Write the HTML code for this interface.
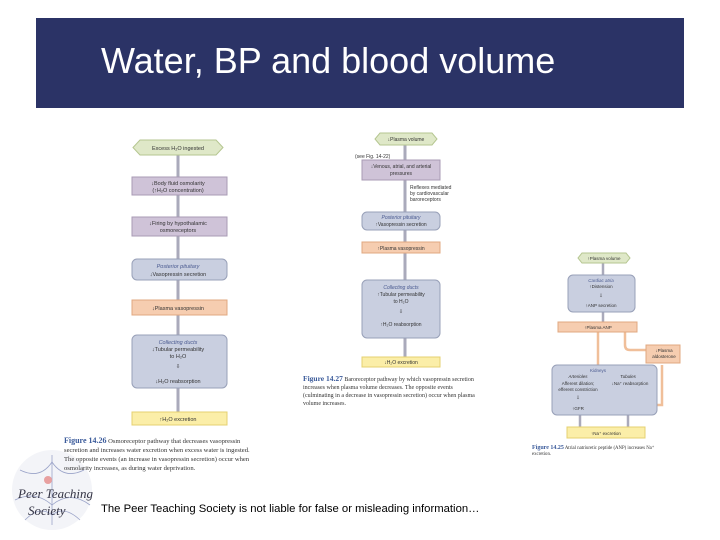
<!DOCTYPE html>
<html><head><meta charset="utf-8"><style>
body{margin:0;width:720px;height:540px;background:#fff;position:relative;overflow:hidden;font-family:"Liberation Sans",sans-serif}
.hdr{position:absolute;left:36px;top:18px;width:648px;height:90px;background:#2b3366}
.ttl{position:absolute;left:101px;top:40px;color:#fff;font-size:36px;white-space:nowrap}
.foot{position:absolute;left:101px;top:503px;font-size:11.3px;color:#000;white-space:nowrap}
svg{position:absolute;left:0;top:0}
</style></head><body>
<div class="hdr"></div>
<div class="ttl">Water, BP and blood volume</div>
<svg width="720" height="540" font-family="Liberation Sans, sans-serif" font-size="5.5" fill="#333">
<ellipse cx="52" cy="490" rx="40" ry="40" fill="#f3f4f8"/>
<g stroke="#9aa3c8" stroke-width="0.8" fill="none">
<path d="M20,470 Q40,480 52,462 Q64,480 84,470"/><path d="M15,500 Q35,490 52,505 Q70,490 90,505"/>
<path d="M52,455 V525"/><path d="M25,520 Q40,505 52,515 Q64,505 80,520"/>
</g>
<circle cx="48" cy="480" r="4" fill="#e8a0a0"/>
<text x="18" y="498" font-family="Liberation Serif, serif" font-style="italic" font-size="13" fill="#334">Peer Teaching</text>
<text x="28" y="515" font-family="Liberation Serif, serif" font-style="italic" font-size="13" fill="#334">Society</text>
<!-- Diagram 1 -->
<g stroke="#aab" stroke-width="3">
<line x1="178" y1="155" x2="178" y2="412"/>
</g>
<polygon points="140,140 216,140 223,147.5 216,155 140,155 133,147.5" fill="#dfe8c8" stroke="#b5c690"/>
<rect x="132" y="177" width="95" height="18" fill="#cfc3d8" stroke="#a99bb5"/>
<rect x="132" y="217" width="95" height="19" fill="#cfc3d8" stroke="#a99bb5"/>
<rect x="132" y="259" width="95" height="21" rx="5" fill="#c9cfe0" stroke="#98a0b8"/>
<rect x="132" y="300" width="95" height="15" fill="#f6cdb0" stroke="#e0a880"/>
<rect x="132" y="335" width="95" height="53" rx="5" fill="#c9cfe0" stroke="#98a0b8"/>
<rect x="132" y="412" width="95" height="13" fill="#fbeea8" stroke="#e5d070"/>
<g text-anchor="middle">
<text x="178" y="150">Excess H₂O ingested</text>
<text x="178" y="185">↓Body fluid osmolarity</text><text x="178" y="192">(↑H₂O concentration)</text>
<text x="178" y="225">↓Firing by hypothalamic</text><text x="178" y="232">osmoreceptors</text>
<text x="178" y="268" font-style="italic" fill="#4a5a90">Posterior pituitary</text><text x="178" y="276">↓Vasopressin secretion</text>
<text x="178" y="310">↓Plasma vasopressin</text>
<text x="178" y="344" font-style="italic" fill="#4a5a90">Collecting ducts</text><text x="178" y="351">↓Tubular permeability</text><text x="178" y="358">to H₂O</text>
<text x="178" y="368">⇩</text><text x="178" y="383">↓H₂O reabsorption</text>
<text x="178" y="421">↑H₂O excretion</text>
</g>
<g font-family="Liberation Serif, serif" font-size="6.6" fill="#333">
<text x="64" y="443"><tspan fill="#3a5a9a" font-weight="bold" font-size="8">Figure 14.26</tspan> Osmoreceptor pathway that decreases vasopressin</text>
<text x="64" y="452">secretion and increases water excretion when excess water is ingested.</text>
<text x="64" y="461">The opposite events (an increase in vasopressin secretion) occur when</text>
<text x="64" y="470">osmolarity increases, as during water deprivation.</text>
</g>
<!-- Diagram 2 -->
<g stroke="#aab" stroke-width="3"><line x1="405" y1="145" x2="405" y2="357"/></g>
<polygon points="380,133 432,133 437,139 432,145 380,145 375,139" fill="#dfe8c8" stroke="#b5c690"/>
<rect x="362" y="160" width="78" height="20" fill="#cfc3d8" stroke="#a99bb5"/>
<rect x="362" y="212" width="78" height="18" rx="5" fill="#c9cfe0" stroke="#98a0b8"/>
<rect x="362" y="242" width="78" height="11" fill="#f6cdb0" stroke="#e0a880"/>
<rect x="362" y="280" width="78" height="58" rx="5" fill="#c9cfe0" stroke="#98a0b8"/>
<rect x="362" y="357" width="78" height="10" fill="#fbeea8" stroke="#e5d070"/>
<g text-anchor="middle" font-size="5">
<text x="406" y="141">↓Plasma volume</text>
<text x="401" y="168">↓Venous, atrial, and arterial</text><text x="401" y="175">pressures</text>
<text x="401" y="219" font-style="italic" fill="#4a5a90">Posterior pituitary</text><text x="401" y="226">↑Vasopressin secretion</text>
<text x="401" y="250">↑Plasma vasopressin</text>
<text x="401" y="289" font-style="italic" fill="#4a5a90">Collecting ducts</text><text x="401" y="296">↑Tubular permeability</text><text x="401" y="303">to H₂O</text>
<text x="401" y="313">⇩</text><text x="401" y="326">↑H₂O reabsorption</text>
<text x="401" y="364">↓H₂O excretion</text>
</g>
<g font-size="5"><text x="355" y="158">(see Fig. 14-22)</text>
<text x="410" y="189">Reflexes mediated</text><text x="410" y="195">by cardiovascular</text><text x="410" y="201">baroreceptors</text></g>
<g font-family="Liberation Serif, serif" font-size="6" fill="#333">
<text x="303" y="381"><tspan fill="#3a5a9a" font-weight="bold" font-size="7.5">Figure 14.27</tspan> Baroreceptor pathway by which vasopressin secretion</text>
<text x="303" y="389">increases when plasma volume decreases. The opposite events</text>
<text x="303" y="397">(culminating in a decrease in vasopressin secretion) occur when plasma</text>
<text x="303" y="405">volume increases.</text>
</g>
<!-- Diagram 3 -->
<g stroke="#aab" stroke-width="2.5"><line x1="603" y1="263" x2="603" y2="322"/><line x1="580" y1="415" x2="580" y2="427"/><line x1="628" y1="415" x2="628" y2="427"/></g>
<g stroke="#f0bf9a" stroke-width="2.5" fill="none"><line x1="598" y1="332" x2="598" y2="365"/><path d="M625,332 V345 Q625,350 630,350 H646"/><path d="M662,365 V405 H657"/></g>
<polygon points="582,253 626,253 630,258 626,263 582,263 578,258" fill="#dfe8c8" stroke="#b5c690"/>
<rect x="568" y="275" width="67" height="37" rx="5" fill="#c9cfe0" stroke="#98a0b8"/>
<rect x="558" y="322" width="79" height="10" fill="#f6cdb0" stroke="#e0a880"/>
<rect x="646" y="345" width="34" height="18" fill="#f6cdb0" stroke="#e0a880"/>
<rect x="552" y="365" width="105" height="50" rx="5" fill="#c9cfe0" stroke="#98a0b8"/>
<rect x="567" y="427" width="78" height="11" fill="#fbeea8" stroke="#e5d070"/>
<g text-anchor="middle" font-size="4.5">
<text x="604" y="260">↑Plasma volume</text>
<text x="601" y="282" font-style="italic" fill="#4a5a90">Cardiac atria</text><text x="601" y="288">↑Distension</text>
<text x="601" y="297">⇩</text><text x="601" y="307">↑ANP secretion</text>
<text x="598" y="329">↑Plasma ANP</text>
<text x="664" y="352">↓Plasma</text><text x="664" y="358">aldosterone</text>
<text x="598" y="372" fill="#4a5a90">Kidneys</text>
<text x="578" y="378" font-style="italic">Arterioles</text><text x="578" y="385">Afferent dilation;</text><text x="578" y="391">efferent constriction</text>
<text x="578" y="399">⇩</text><text x="578" y="410">↑GFR</text>
<text x="628" y="378" font-style="italic">Tubules</text><text x="630" y="385">↓Na⁺ reabsorption</text>
<text x="606" y="435">↑Na⁺ excretion</text>
</g>
<g font-family="Liberation Serif, serif" font-size="4.8" fill="#333">
<text x="532" y="449"><tspan fill="#3a5a9a" font-weight="bold" font-size="6">Figure 14.25</tspan> Atrial natriuretic peptide (ANP) increases Na⁺</text>
<text x="532" y="455">excretion.</text>
</g>
</svg>
<div class="foot">The Peer Teaching Society is not liable for false or misleading information…</div>
</body></html>
